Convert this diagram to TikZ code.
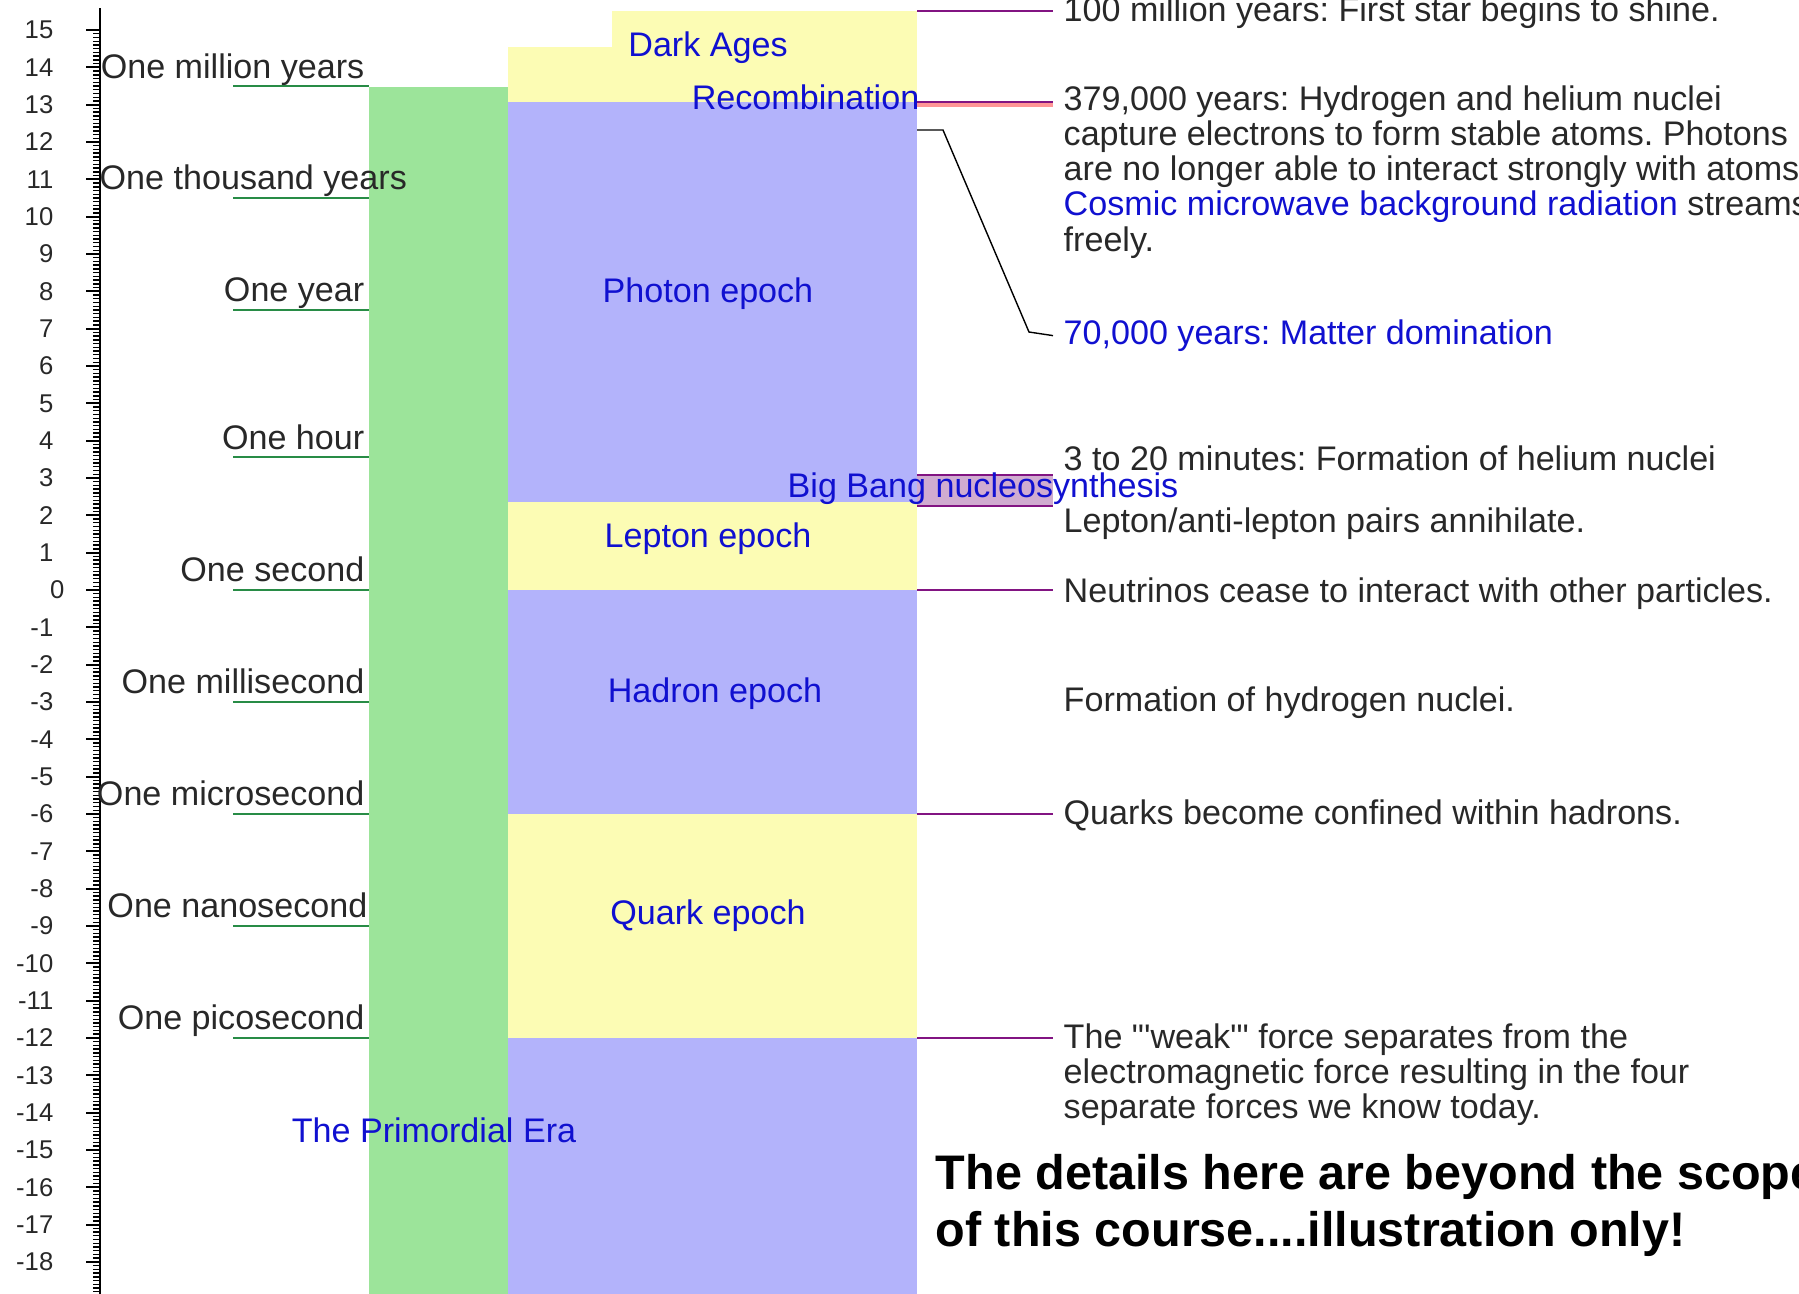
\documentclass[tikz,border=0pt]{standalone}
\usepackage{fontspec}
\setmainfont{Liberation Sans}[Ligatures=TeXOff]
\usetikzlibrary{positioning}

\definecolor{eragreen}{RGB}{156,228,154}
\definecolor{epochblue}{RGB}{179,179,251}
\definecolor{epochyellow}{RGB}{252,252,180}
\definecolor{labelblue}{RGB}{16,16,208}
\definecolor{tickgreen}{RGB}{40,140,70}
\definecolor{eventpurple}{RGB}{130,20,130}
\definecolor{recombpink}{RGB}{255,150,150}
\definecolor{bbnmauve}{RGB}{208,172,208}
\definecolor{textgray}{RGB}{40,40,40}

% log10(seconds) -> row on the page
\newcommand{\tpos}[1]{(30+(15-(#1))*37.33)}

\begin{document}
\frenchspacing
\begin{tikzpicture}[
  x=0.01cm, y=-0.01cm,
  font=\fontsize{9.7}{10}\selectfont,
  % --- styles ---
  ticklab/.style={font=\fontsize{7.3}{8}\selectfont, text=textgray, anchor=east, inner sep=0pt},
  scalelab/.style={text=textgray, anchor=base east, inner sep=0pt},
  epochlab/.style={text=labelblue, inner sep=0pt},
  event/.style={text=textgray, anchor=north west, align=left, inner sep=0pt},
  underline/.style={draw=tickgreen, line width=0.6pt},
  eventline/.style={draw=eventpurple, line width=0.6pt, shorten >=1mm},
  banner/.style={font=\fontsize{13.8}{16.2}\selectfont\bfseries, anchor=north west, align=left, inner sep=0pt}
]
\useasboundingbox (0,0) rectangle (1799,1293);
\clip (0,0) rectangle (1799,1293);

% ======================================================
% Time axis (log10 seconds)
% ======================================================
\draw[line width=0.6pt] (100,8) -- (100,1300);
\foreach \m in {0,...,349}
  \draw[line width=0.4pt] (93,{30+\m*3.733}) -- (100,{30+\m*3.733});
\foreach \v in {15,14,...,-19}
  \draw[line width=0.6pt] (86,{\tpos{\v}}) -- (100,{\tpos{\v}});
\foreach \v in {15,14,...,1}
  \node[ticklab] (tick\v) at (54,{\tpos{\v}}) {\v};
\node[ticklab] (tick0) at (65,{\tpos{0}}) {0};
\foreach \v in {-1,-2,...,-18}
  \node[ticklab] (tick\v) at (54,{\tpos{\v}}) {\v};

% ======================================================
% Era and epoch columns
% ======================================================
\fill[eragreen] (369,87) rectangle (508,1300);
\fill[epochyellow] (508,47) rectangle (612,{\tpos{13.08}});
\fill[epochyellow] (612,{\tpos{15.5}}) rectangle (917,{\tpos{13.08}});
\fill[epochblue] (508,{\tpos{13.08}}) rectangle (917,502);
\fill[epochyellow] (508,502) rectangle (917,{\tpos{0}});
\fill[epochblue] (508,{\tpos{0}}) rectangle (917,{\tpos{-6}});
\fill[epochyellow] (508,{\tpos{-6}}) rectangle (917,{\tpos{-12}});
\fill[epochblue] (508,{\tpos{-12}}) rectangle (917,1300);

% ======================================================
% Familiar time spans
% ======================================================
\foreach \v in {13.5,10.5,7.5,3.556,0,-3,-6,-9,-12}
  \draw[underline] (233,{\tpos{\v}}) -- (369,{\tpos{\v}});
\node[scalelab] (million) at (365,{\tpos{13.5}-8}) {One million years};
\node[scalelab, anchor=base west] (thousand) at (99,{\tpos{10.5}-8}) {One thousand years};
\node[scalelab] (year) at (365,{\tpos{7.5}-8}) {One year};
\node[scalelab] (hour) at (365,{\tpos{3.556}-8}) {One hour};
\node[scalelab] (second) at (365,{\tpos{0}-8}) {One second};
\node[scalelab] (milli) at (365,{\tpos{-3}-8}) {One millisecond};
\node[scalelab] (micro) at (365,{\tpos{-6}-8}) {One microsecond};
\node[scalelab] (nano) at (368,{\tpos{-9}-8}) {One nanosecond};
\node[scalelab] (pico) at (365,{\tpos{-12}-8}) {One picosecond};

% ======================================================
% Marks on the epoch column
% ======================================================
\fill[recombpink] (917,{\tpos{13.08}}) rectangle (1053,{\tpos{13.08}+5});
\fill[bbnmauve] (917,{\tpos{3.08}}) rectangle (1053,{\tpos{2.255}});
\draw[eventline, shorten >=0pt] (917,{\tpos{3.08}}) -- (1053,{\tpos{3.08}});
\draw[eventline, shorten >=0pt] (917,{\tpos{2.255}}) -- (1053,{\tpos{2.255}});

\node[epochlab] (dark) at (708,48) {Dark Ages};
\node[epochlab, anchor=east] (recomb) at (920,97) {Recombination};
\node[epochlab] (photon) at (708,294) {Photon epoch};
\node[epochlab] (bbn) at (983,489) {Big Bang nucleosynthesis};
\node[epochlab] (lepton) at (708,539) {Lepton epoch};
\node[epochlab] (hadron) at (715,694) {Hadron epoch};
\node[epochlab] (quark) at (708,916) {Quark epoch};
\node[epochlab] (primordial) at (434,1130) {The Primordial Era};

% ======================================================
% Events
% ======================================================
\node[event] (star) at (1063,-4) {100 million years: First star begins to shine.};
\node[event] (atoms) at (1063,85) {379,000 years: Hydrogen and helium nuclei\\
capture electrons to form stable atoms. Photons\\
are no longer able to interact strongly with atoms.\\
\textcolor{labelblue}{Cosmic microwave background radiation} streams\\
freely.};
\node[event, text=labelblue] (matter) at (1063,319) {70,000 years: Matter domination};
\node[event] (helium) at (1063,445) {3 to 20 minutes: Formation of helium nuclei};
\node[event] (pairs) at (1063,507) {Lepton/anti-lepton pairs annihilate.};
\node[event] (neutrino) at (1063,577) {Neutrinos cease to interact with other particles.};
\node[event] (hydrogen) at (1063,686) {Formation of hydrogen nuclei.};
\node[event] (confine) at (1063,799) {Quarks become confined within hadrons.};
\node[event] (weak) at (1063,1023) {The "'weak'" force separates from the\\
electromagnetic force resulting in the four\\
separate forces we know today.};

\coordinate (e-star) at (917,{\tpos{15.5}});
\coordinate (e-atoms) at (917,{\tpos{13.08}});
\coordinate (e-matter) at (917,130);
\coordinate (e-neutrino) at (917,{\tpos{0}});
\coordinate (e-confine) at (917,{\tpos{-6}});
\coordinate (e-weak) at (917,{\tpos{-12}});

\draw[eventline] (e-star) -- (e-star -| star.west);
\draw[eventline] (e-atoms) -- (e-atoms -| atoms.west);
\draw[eventline] (e-neutrino) -- (e-neutrino -| neutrino.west);
\draw[eventline] (e-confine) -- (e-confine -| confine.west);
\draw[eventline] (e-weak) -- (e-weak -| weak.west);
\draw[line width=0.4pt] (e-matter) -- ++(26,0) -- (1029,332) -- ([xshift=-1mm]matter.west);

% ======================================================
% Note
% ======================================================
\node[banner] (note) at (935,1154) {The details here are beyond the scope\\
of this course....illustration only!};

\end{tikzpicture}
\end{document}
